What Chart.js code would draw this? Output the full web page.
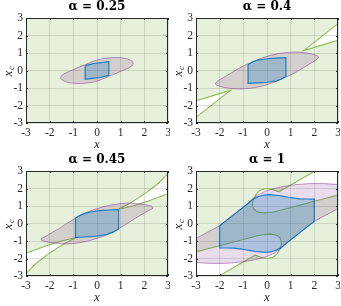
<!DOCTYPE html>
<html>
<head>
<meta charset="utf-8">
<script src="https://cdn.jsdelivr.net/npm/chart.js@4.4.1/dist/chart.umd.min.js"></script>
<style>
  html, body { margin: 0; padding: 0; background: #fff; }
  #wrap { position: relative; width: 341px; height: 306px; }
  #wrap canvas { position: absolute; }
</style>
</head>
<body>
<div id="wrap">
  <canvas id="p1" width="170" height="153" style="left:0;top:0"></canvas>
  <canvas id="p2" width="170" height="153" style="left:170px;top:0"></canvas>
  <canvas id="p3" width="170" height="153" style="left:0;top:153px"></canvas>
  <canvas id="p4" width="170" height="153" style="left:170px;top:153px"></canvas>
</div>
<script>
const tickValues = [-3, -2, -1, 0, 1, 2, 3]
const tickLabels = ['-3', '-2', '-1', '0', '1', '2', '3']
const alphas = ['0.25', '0.4', '0.45', '1']

// alpha = 0.25
const green025 = [[-3, -3], [3, -3], [3, 3], [-3, 3], [-3, -3]]
const ellipse025 = [[0.35, 0.70], [-0.07, 0.57], [-0.49, 0.34], [-0.92, 0.10], [-1.3, -0.13], [-1.48, -0.27], [-1.53, -0.40], [-1.48, -0.53], [-1.20, -0.69], [-0.77, -0.74], [-0.35, -0.70], [0.07, -0.57], [0.49, -0.34], [0.92, -0.10], [1.3, 0.13], [1.48, 0.27], [1.53, 0.40], [1.48, 0.53], [1.20, 0.69], [0.77, 0.74], [0.35, 0.70]]
const box025 = [[-0.5, 0.28], [-0.15, 0.40], [0.5, 0.5], [0.5, -0.28], [0.15, -0.40], [-0.5, -0.5], [-0.5, 0.28]]

// alpha = 0.4
const green04 = [[-3, -3], [3, -3], [3, 1.73], [1.55, 1.14], [3, 2.68], [3, 3], [-3, 3], [-3, -1.73], [-1.55, -1.14], [-3, -2.68], [-3, -3]]
const edgeUp04 = [[3, 1.73], [1.55, 1.14], [3, 2.68]]
const edgeLow04 = [[-3, -1.73], [-1.55, -1.14], [-3, -2.68]]
const ellipse04 = [[0.49, 0.97], [-0.07, 0.78], [-0.63, 0.48], [-1.2, 0.11], [-1.76, -0.34], [-2.07, -0.60], [-2.18, -0.76], [-2.04, -0.88], [-1.62, -1.01], [-1.06, -1.05], [-0.49, -0.97], [0.07, -0.78], [0.63, -0.48], [1.2, -0.11], [1.76, 0.34], [2.07, 0.60], [2.18, 0.76], [2.04, 0.88], [1.62, 1.01], [1.06, 1.05], [0.49, 0.97]]
const box04 = [[-0.8, 0.34], [-0.6, 0.5], [-0.4, 0.59], [0, 0.67], [0.4, 0.71], [0.8, 0.74], [0.8, -0.34], [0.6, -0.5], [0.4, -0.59], [0, -0.67], [-0.4, -0.71], [-0.8, -0.74], [-0.8, 0.34]]

// alpha = 0.45
const green045 = [[-3, -3], [3, -3], [3, 1.70], [2.2, 1.3], [1.5, 1.0], [0.9, 0.81], [1.35, 1.13], [1.7, 1.42], [2.1, 1.78], [2.6, 2.3], [3, 2.87], [3, 3], [-3, 3], [-3, -1.70], [-2.2, -1.3], [-1.5, -1.0], [-0.9, -0.81], [-1.35, -1.13], [-1.7, -1.42], [-2.1, -1.78], [-2.6, -2.3], [-3, -2.87], [-3, -3]]
const edgeUp045 = [[3, 1.70], [2.2, 1.3], [1.5, 1.0], [0.9, 0.81], [1.35, 1.13], [1.7, 1.42], [2.1, 1.78], [2.6, 2.3], [3, 2.87]]
const edgeLow045 = [[-3, -1.70], [-2.2, -1.3], [-1.5, -1.0], [-0.9, -0.81], [-1.35, -1.13], [-1.7, -1.42], [-2.1, -1.78], [-2.6, -2.3], [-3, -2.87]]
const ellipse045 = [[0.63, 1.07], [0.07, 0.88], [-0.49, 0.6], [-1.06, 0.18], [-1.62, -0.30], [-2.15, -0.72], [-2.37, -0.89], [-2.25, -1.01], [-1.76, -1.12], [-1.2, -1.16], [-0.63, -1.07], [-0.07, -0.88], [0.49, -0.6], [1.06, -0.18], [1.62, 0.30], [2.15, 0.72], [2.37, 0.89], [2.25, 1.01], [1.76, 1.12], [1.2, 1.16], [0.63, 1.07]]
const box045 = [[-0.91, 0.31], [-0.7, 0.48], [-0.42, 0.62], [0, 0.72], [0.5, 0.77], [0.91, 0.8], [0.91, -0.31], [0.7, -0.48], [0.42, -0.62], [0, -0.72], [-0.5, -0.77], [-0.91, -0.8], [-0.91, 0.31]]

// alpha = 1
const edgeUp1 = [[2.03, 3], [0.5, 1.81], [0.35, 1.89], [0.2, 1.95], [0.05, 1.99], [-0.1, 1.98], [-0.25, 1.92], [-0.38, 1.8], [-0.48, 1.62], [-0.56, 1.42], [-0.61, 1.2], [-0.6, 1.0], [-0.55, 0.82], [-0.45, 0.7], [-0.3, 0.63], [-0.1, 0.61], [0.2, 0.64], [0.6, 0.77], [1, 0.91], [2, 1.27], [3, 1.62]]
const edgeLow1 = [[-2.03, -3], [-0.5, -1.81], [-0.35, -1.89], [-0.2, -1.95], [-0.05, -1.99], [0.1, -1.98], [0.25, -1.92], [0.38, -1.8], [0.48, -1.62], [0.56, -1.42], [0.61, -1.2], [0.6, -1.0], [0.55, -0.82], [0.45, -0.7], [0.3, -0.63], [0.1, -0.61], [-0.2, -0.64], [-0.6, -0.77], [-1, -0.91], [-2, -1.27], [-3, -1.62]]
const green1 = [[-3, 3], ...edgeUp1, [3, -3], ...edgeLow1, [-3, 3]]
const ellipse1 = [[-3, -0.85], [-2, -0.13], [-0.75, 1.2], [-0.6, 1.42], [-0.4, 1.62], [-0.2, 1.76], [0, 1.88], [0.3, 2.0], [0.7, 2.12], [1.2, 2.22], [1.8, 2.28], [2.4, 2.28], [3, 2.23], [3, 0.85], [2, 0.13], [0.75, -1.2], [0.6, -1.42], [0.4, -1.62], [0.2, -1.76], [0, -1.88], [-0.3, -2.0], [-0.7, -2.12], [-1.2, -2.22], [-1.8, -2.28], [-2.4, -2.28], [-3, -2.23], [-3, -0.85]]
const box1 = [[-2, -0.13], [-0.75, 1.2], [-0.6, 1.38], [-0.4, 1.52], [-0.15, 1.62], [0.1, 1.65], [0.5, 1.6], [0.9, 1.5], [1.4, 1.41], [2, 1.39], [2, 0.13], [0.75, -1.2], [0.6, -1.38], [0.4, -1.52], [0.15, -1.62], [-0.1, -1.65], [-0.5, -1.6], [-0.9, -1.5], [-1.4, -1.41], [-2, -1.39], [-2, -0.13]]

const GREEN_FILL = 'rgba(119,172,48,0.18)'
const GREEN_LINE = 'rgba(119,172,48,0.8)'
const PURPLE_FILL = 'rgba(126,47,142,0.17)'
const PURPLE_LINE = 'rgba(126,47,142,0.5)'
const BLUE_FILL = 'rgba(0,114,189,0.25)'
const BLUE_LINE = 'rgba(0,114,189,0.85)'
const GRID = 'rgba(38,38,38,0.15)'
const SERIF = '"Liberation Serif", "DejaVu Serif", serif'
// tiny tension keeps edges straight but avoids chart.js' x-sorted fast path
const STRAIGHT = 0.0001

const toXY = (pts) => pts.map(([x, y]) => ({ x, y }))

const region = (pts, color, order) => ({
  data: toXY(pts),
  showLine: true,
  fill: 'shape',
  backgroundColor: color,
  borderColor: 'transparent',
  borderWidth: 1,
  pointRadius: 0,
  tension: STRAIGHT,
  order,
})

const outline = (pts, color, order) => ({
  data: toXY(pts),
  showLine: true,
  fill: false,
  borderColor: color,
  borderWidth: 1.1,
  pointRadius: 0,
  tension: STRAIGHT,
  order,
})

const patch = (pts, fillColor, lineColor, width, tension, order) => ({
  data: toXY(pts),
  showLine: true,
  fill: 'shape',
  backgroundColor: fillColor,
  borderColor: lineColor,
  borderWidth: width,
  pointRadius: 0,
  tension,
  order,
})

const frame = {
  id: 'frame',
  afterDatasetsDraw(chart) {
    const { ctx, chartArea: a, scales } = chart
    ctx.save()
    ctx.strokeStyle = '#262626'
    ctx.lineWidth = 1
    ctx.beginPath()
    tickValues.forEach((v) => {
      const px = Math.round(scales.x.getPixelForValue(v)) + 0.5
      const py = Math.round(scales.y.getPixelForValue(v)) + 0.5
      ctx.moveTo(px, a.bottom); ctx.lineTo(px, a.bottom - 2)
      ctx.moveTo(px, a.top); ctx.lineTo(px, a.top + 2)
      ctx.moveTo(a.left, py); ctx.lineTo(a.left + 2, py)
      ctx.moveTo(a.right, py); ctx.lineTo(a.right - 2, py)
    })
    ctx.stroke()
    ctx.strokeRect(a.left + 0.5, a.top + 0.5, a.right - a.left - 1, a.bottom - a.top - 1)
    ctx.restore()
  },
  afterDraw(chart, args, opts) {
    const { ctx, chartArea: a } = chart
    const cx = (a.left + a.right) / 2
    const cy = (a.top + a.bottom) / 2
    ctx.save()
    ctx.fillStyle = '#000'
    ctx.textAlign = 'center'
    ctx.textBaseline = 'middle'
    ctx.font = 'bold 12px "DejaVu Serif", serif'
    ctx.fillText(opts.title, cx, 7)
    ctx.fillStyle = '#262626'
    ctx.font = `italic 13px ${SERIF}`
    ctx.fillText('x', cx, 145)
    ctx.translate(9, cy)
    ctx.rotate(-Math.PI / 2)
    ctx.textAlign = 'left'
    ctx.fillText('x', -6, 0)
    ctx.font = `italic 9px ${SERIF}`
    ctx.fillText('c', 0.5, 3)
    ctx.restore()
  },
}

const axis = (size) => ({
  type: 'linear',
  min: -3,
  max: 3,
  grid: { color: GRID, lineWidth: 1, drawTicks: false },
  border: { display: false },
  ticks: {
    stepSize: 1,
    padding: 3,
    color: '#262626',
    font: { family: SERIF, size: 11.5 },
    maxRotation: 0,
    autoSkip: false,
    callback: (v) => tickLabels[tickValues.indexOf(v)],
  },
  afterFit: (s) => {
    if (s.isHorizontal()) {
      s.height = size
      s.paddingLeft = 0
      s.paddingRight = 0
    } else {
      s.width = size
      s.paddingTop = 0
      s.paddingBottom = 0
    }
  },
})

const buildPanel = (canvasId, alpha, datasets) => {
  new Chart(document.getElementById(canvasId), {
    type: 'scatter',
    data: { datasets },
    options: {
      responsive: false,
      animation: false,
      devicePixelRatio: 1,
      events: [],
      layout: { padding: { top: 18, right: 2, left: 0, bottom: 0 } },
      plugins: {
        legend: { display: false },
        tooltip: { enabled: false },
        frame: { title: `α = ${alpha}` },
      },
      scales: { x: axis(30), y: axis(26) },
    },
    plugins: [frame],
  })
}

buildPanel('p1', alphas[0], [
  region(green025, GREEN_FILL, 5),
  patch(ellipse025, PURPLE_FILL, PURPLE_LINE, 1, 0.4, 2),
  patch(box025, BLUE_FILL, BLUE_LINE, 1.2, STRAIGHT, 1),
])

buildPanel('p2', alphas[1], [
  region(green04, GREEN_FILL, 5),
  outline(edgeUp04, GREEN_LINE, 4),
  outline(edgeLow04, GREEN_LINE, 4),
  patch(ellipse04, PURPLE_FILL, PURPLE_LINE, 1, 0.4, 2),
  patch(box04, BLUE_FILL, BLUE_LINE, 1.2, STRAIGHT, 1),
])

buildPanel('p3', alphas[2], [
  region(green045, GREEN_FILL, 5),
  outline(edgeUp045, GREEN_LINE, 4),
  outline(edgeLow045, GREEN_LINE, 4),
  patch(ellipse045, PURPLE_FILL, PURPLE_LINE, 1, 0.4, 2),
  patch(box045, BLUE_FILL, BLUE_LINE, 1.2, STRAIGHT, 1),
])

buildPanel('p4', alphas[3], [
  region(green1, GREEN_FILL, 5),
  outline(edgeUp1, GREEN_LINE, 4),
  outline(edgeLow1, GREEN_LINE, 4),
  patch(ellipse1, PURPLE_FILL, PURPLE_LINE, 1, STRAIGHT, 2),
  patch(box1, BLUE_FILL, BLUE_LINE, 1.2, STRAIGHT, 1),
])
</script>
</body>
</html>
